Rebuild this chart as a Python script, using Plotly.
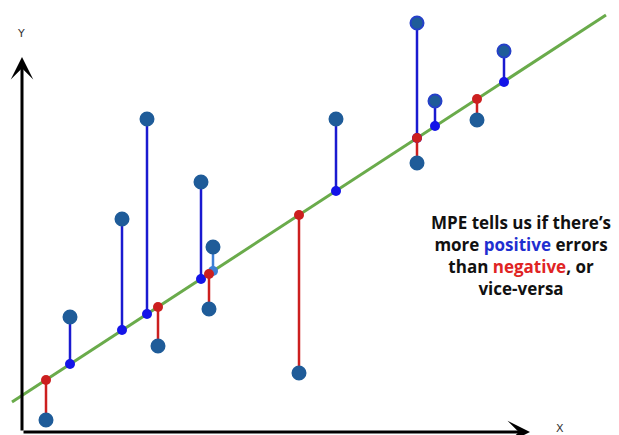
import plotly.graph_objects as go

# Data (X, actual Y, predicted Y)
x_vals = [2.4, 4.8, 10.0, 12.5, 13.6, 17.9, 19.1, 18.7, 27.7, 31.4, 39.5, 39.5, 41.3, 45.5, 48.2]
actual = [1.2, 11.5, 21.3, 31.3, 8.6, 25.0, 18.5, 12.3, 5.9, 31.3, 40.9, 26.9, 33.1, 31.2, 38.1]
predicted = [5.2, 6.8, 10.2, 11.8, 12.5, 15.3, 16.1, 15.8, 21.7, 24.1, 29.4, 29.4, 30.6, 33.3, 35.0]
fit_x = [-1.0, 58.4]
fit_y = [3.0, 41.7]

BLUE = "#1a1ad0"
RED = "#cc1f1f"
DOT = "#1f5c99"

fig = go.Figure()

fig.add_trace(go.Scatter(x=fit_x, y=fit_y, mode="lines",
                         line=dict(color="#6aab4b", width=3), hoverinfo="skip"))

# error segments
for xv, a, p in zip(x_vals, actual, predicted):
    pos = a > p
    col = BLUE if pos else RED
    if abs(xv - 19.1) < 1e-9:
        col = "#3d7fd6"
    fig.add_trace(go.Scatter(x=[xv, xv], y=[a, p], mode="lines",
                             line=dict(color=col, width=2.5), hoverinfo="skip"))

ring = [abs(xv - 39.5) < 1e-9 and a > p or xv in (41.3, 48.2) for xv, a, p in zip(x_vals, actual, predicted)]
fig.add_trace(go.Scatter(x=x_vals, y=actual, mode="markers",
                         marker=dict(size=13, color=DOT,
                                     line=dict(color=["#2540c8" if r else DOT for r in ring], width=2)),
                         hoverinfo="skip"))

pcols = []
for xv, a, p in zip(x_vals, actual, predicted):
    if abs(xv - 19.1) < 1e-9:
        pcols.append("#3d7fd6")
    else:
        pcols.append("#1414e8" if a > p else RED)
fig.add_trace(go.Scatter(x=x_vals, y=predicted, mode="markers",
                         marker=dict(size=10, color=pcols), hoverinfo="skip"))

annotations = [
    # Y axis arrow
    dict(x=0, y=37.5, ax=0, ay=0, xref="x", yref="y", axref="x", ayref="y",
         text="", showarrow=True, arrowhead=3, arrowsize=1.25, arrowwidth=3, arrowcolor="black"),
    # X axis arrow
    dict(x=50.8, y=0, ax=0, ay=0, xref="x", yref="y", axref="x", ayref="y",
         text="", showarrow=True, arrowhead=3, arrowsize=1.25, arrowwidth=3, arrowcolor="black"),
    dict(x=-0.1, y=39.9, xref="x", yref="y", text="Y", showarrow=False,
         font=dict(family="DejaVu Sans", size=11, color="#333")),
    dict(x=53.8, y=0.4, xref="x", yref="y", text="X", showarrow=False,
         font=dict(family="DejaVu Sans", size=11, color="#333")),
    dict(x=49.9, y=17.7, xref="x", yref="y", showarrow=False, align="center",
         text=("<b>MPE tells us if there’s<br>more <span style='color:#1f2fd0'>positive</span> errors"
               "<br>than <span style='color:#e02424'>negative</span>, or<br>vice-versa</b>"),
         font=dict(family="Open Sans", size=17, color="#111")),
]

fig.update_layout(
    width=619, height=435,
    margin=dict(l=0, r=0, t=0, b=0),
    paper_bgcolor="white", plot_bgcolor="white",
    showlegend=False,
    xaxis=dict(range=[-2.2, 59.7], visible=False, fixedrange=True),
    yaxis=dict(range=[-0.3, 43.2], visible=False, fixedrange=True),
    annotations=annotations,
)

fig.write_html("out.html", config={"displayModeBar": False},
               post_script="document.body.style.margin='0';document.body.style.overflow='hidden';")
